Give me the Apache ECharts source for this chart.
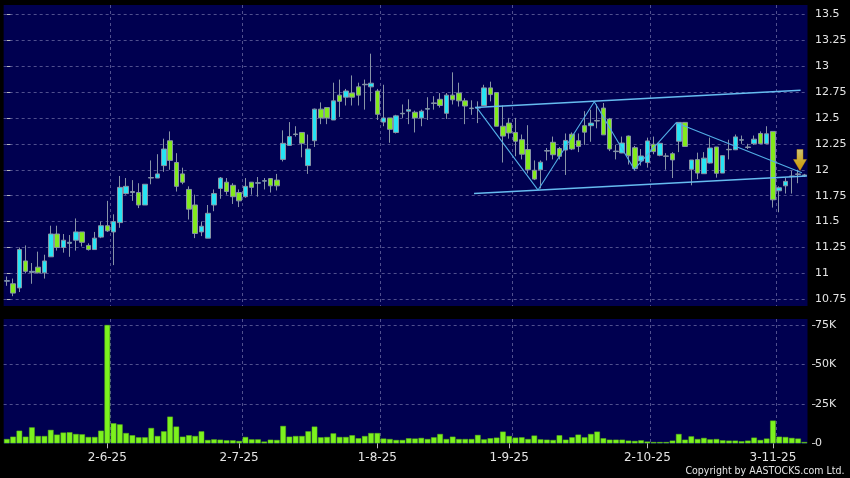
<!DOCTYPE html>
<html>
<head>
<meta charset="utf-8">
<script src="https://cdn.jsdelivr.net/npm/echarts@6.0.0/dist/echarts.min.js"></script>
<style>
html,body{margin:0;padding:0;background:#000;}
#chart{width:850px;height:478px;}
</style>
</head>
<body>
<div id="chart"></div>
<script>
// ---- data ----
const dates = [
'9-5-25','12-5-25','13-5-25','14-5-25','15-5-25','16-5-25','19-5-25','20-5-25','21-5-25','22-5-25','23-5-25','26-5-25','27-5-25','28-5-25','29-5-25','30-5-25',
'2-6-25','3-6-25','4-6-25','5-6-25','6-6-25','9-6-25','10-6-25','11-6-25','12-6-25','13-6-25','16-6-25','17-6-25','18-6-25','19-6-25','20-6-25','23-6-25','24-6-25','25-6-25','26-6-25','27-6-25','30-6-25',
'2-7-25','3-7-25','4-7-25','7-7-25','8-7-25','9-7-25','10-7-25','11-7-25','14-7-25','15-7-25','16-7-25','17-7-25','18-7-25','21-7-25','22-7-25','23-7-25','24-7-25','25-7-25','28-7-25','29-7-25','30-7-25','31-7-25',
'1-8-25','4-8-25','5-8-25','6-8-25','7-8-25','8-8-25','11-8-25','12-8-25','13-8-25','14-8-25','15-8-25','18-8-25','19-8-25','20-8-25','21-8-25','22-8-25','25-8-25','26-8-25','27-8-25','28-8-25','29-8-25',
'1-9-25','2-9-25','3-9-25','4-9-25','5-9-25','8-9-25','9-9-25','10-9-25','11-9-25','12-9-25','15-9-25','16-9-25','17-9-25','18-9-25','19-9-25','22-9-25','23-9-25','24-9-25','25-9-25','26-9-25','29-9-25','30-9-25',
'2-10-25','3-10-25','6-10-25','8-10-25','9-10-25','10-10-25','13-10-25','14-10-25','15-10-25','16-10-25','17-10-25','20-10-25','21-10-25','22-10-25','23-10-25','24-10-25','27-10-25','28-10-25','30-10-25','31-10-25',
'3-11-25','4-11-25','5-11-25','6-11-25','7-11-25','10-11-25'
];
const labelDates = ['2-6-25','2-7-25','1-8-25','1-9-25','2-10-25','3-11-25'];

const openP = [
10.925,10.90,10.86,11.12,11.01,11.06,11.005,11.16,11.38,11.25,
11.29,11.32,11.40,11.27,11.23,11.35,11.46,11.40,11.49,11.77,
11.78,11.78,11.66,11.92,11.92,12.04,12.28,12.07,11.96,11.81,
11.66,11.40,11.34,11.66,11.82,11.88,11.85,11.78,11.74,11.88,
11.87,11.89,11.915,11.90,12.10,12.235,12.34,12.36,12.04,12.28,
12.585,12.60,12.48,12.72,12.70,12.74,12.80,12.82,12.80,12.76,
12.46,12.50,12.36,12.54,12.565,12.555,12.50,12.585,12.64,12.68,
12.545,12.72,12.74,12.665,12.59,12.595,12.62,12.79,12.745,12.42,
12.45,12.36,12.29,12.195,11.995,12.0,12.18,12.265,12.205,12.19,
12.343,12.28,12.425,12.425,12.47,12.595,12.49,12.175,12.162,12.325,
12.213,12.085,12.069,12.246,12.139,12.13,12.155,12.275,12.457,12.005,
12.098,11.962,12.065,12.22,11.968,12.193,12.193,12.285,12.215,12.252,
12.35,12.252,12.37,11.797,11.845,11.935,11.955,11.945
];
const closeP = [
10.93,10.81,11.23,11.02,11.02,11.005,11.12,11.38,11.25,11.32,
11.30,11.40,11.30,11.23,11.34,11.46,11.41,11.50,11.83,11.84,
11.79,11.66,11.86,11.925,11.96,12.20,12.09,11.84,11.88,11.62,
11.385,11.455,11.58,11.77,11.92,11.79,11.74,11.70,11.84,11.83,
11.875,11.895,11.845,11.845,12.255,12.32,12.345,12.255,12.20,12.585,
12.50,12.50,12.665,12.66,12.76,12.70,12.72,12.825,12.835,12.535,
12.50,12.39,12.52,12.545,12.58,12.50,12.565,12.59,12.645,12.62,
12.72,12.675,12.665,12.615,12.595,12.60,12.79,12.725,12.42,12.325,
12.355,12.275,12.15,12.0,11.91,12.073,12.185,12.145,12.13,12.283,
12.20,12.225,12.363,12.45,12.475,12.337,12.20,12.18,12.258,12.135,
12.011,12.133,12.278,12.175,12.255,12.133,12.095,12.457,12.225,12.094,
11.968,12.112,12.21,11.966,12.136,12.197,12.317,12.29,12.22,12.295,
12.252,12.347,11.71,11.826,11.888,11.94,11.96,11.95
];
const lowP = [
10.88,10.78,10.82,11.00,10.90,11.00,10.95,11.16,11.22,11.20,
11.16,11.22,11.26,11.22,11.23,11.34,11.40,11.08,11.44,11.76,
11.70,11.63,11.66,11.86,11.92,11.98,12.00,11.79,11.86,11.52,
11.34,11.36,11.34,11.60,11.72,11.76,11.67,11.64,11.73,11.76,
11.74,11.81,11.78,11.80,12.08,12.23,12.32,12.12,11.96,12.22,
12.44,12.44,12.48,12.51,12.62,12.62,12.62,12.58,12.66,12.48,
12.42,12.26,12.35,12.50,12.44,12.36,12.42,12.48,12.58,12.60,
12.49,12.63,12.61,12.44,12.53,12.45,12.62,12.66,12.42,12.07,
12.30,12.13,12.10,11.965,11.90,11.82,12.09,12.10,12.10,11.95,
12.19,12.17,12.24,12.27,12.40,12.337,12.18,12.10,12.16,12.05,
11.99,12.04,12.02,12.15,12.13,12.00,11.92,12.17,12.22,11.85,
11.91,11.96,12.06,11.924,11.968,12.10,12.19,12.25,12.20,12.24,
12.25,12.25,11.635,11.59,11.77,11.77,11.87,11.93
];
const highP = [
10.97,10.95,11.25,11.27,11.10,11.21,11.18,11.46,11.46,11.38,
11.37,11.53,11.40,11.29,11.40,11.50,11.70,11.57,11.94,11.92,
11.90,11.87,11.86,12.09,12.15,12.30,12.37,12.16,12.02,11.84,
11.76,11.50,11.66,11.81,11.93,11.92,11.87,11.81,11.92,11.88,
11.93,11.92,11.92,11.96,12.38,12.46,12.42,12.36,12.34,12.59,
12.65,12.60,12.84,12.87,12.78,12.91,12.84,12.87,13.12,12.78,
12.82,12.50,12.53,12.63,12.68,12.57,12.58,12.70,12.71,12.74,
12.74,12.94,12.84,12.69,12.67,12.66,12.82,12.85,12.75,12.62,
12.50,12.50,12.34,12.43,12.09,12.09,12.21,12.32,12.22,12.35,
12.36,12.35,12.565,12.58,12.63,12.644,12.50,12.24,12.32,12.33,
12.23,12.20,12.31,12.32,12.26,12.16,12.17,12.46,12.46,12.094,
12.165,12.17,12.31,12.22,12.14,12.29,12.34,12.33,12.25,12.33,
12.37,12.42,12.37,11.84,11.92,11.99,12.0,11.96
];
// volume in thousands of shares
const volumeK = [
2.7,4.2,8.0,4.2,10.1,4.6,4.6,8.5,5.5,6.8,
7.0,5.9,5.7,4.0,4.0,8.0,75.0,12.7,12.0,6.5,
5.1,3.8,3.8,9.7,4.6,7.6,16.9,10.6,4.2,5.1,
4.6,7.6,2.1,2.5,2.3,1.9,1.9,1.5,4.0,2.5,
2.5,1.1,2.3,2.1,11.0,4.2,4.6,4.6,7.6,10.6,
3.8,4.0,6.3,4.0,4.0,5.1,3.2,4.6,6.5,6.5,
3.0,2.7,2.1,2.1,3.2,3.0,3.4,
2.7,3.8,5.9,2.7,4.2,2.7,2.7,2.7,5.3,2.5,
3.2,3.6,7.4,4.6,3.6,3.8,2.7,4.9,2.5,2.3,
2.1,5.1,2.3,3.8,5.5,3.8,5.9,7.4,3.2,2.3,
2.3,2.3,1.7,1.5,1.9,1.1,0.8,0.8,0.8,1.7,
5.9,2.3,4.4,2.7,3.4,2.5,2.7,1.9,1.7,1.7,
1.3,1.7,3.6,2.1,3.0,14.4,4.2,4.0,3.4,3.0,
0.8
];
// trend lines: [category position, price]
const channelUpper = [[74.55, 12.600], [126.4, 12.766]];
const channelLower = [[74.4, 11.772], [127.4, 11.939]];
const zigzag = [[74.8, 12.602], [84.6, 11.804], [93.55, 12.656], [99.9, 12.004], [106.6, 12.454], [126.6, 11.971]];
const arrowPoint = [[126.3, 12.094]];
const priceTicks = {min: 10.75, max: 13.5, step: 0.25};
const volTicks = {min: 0, max: 75, step: 25};

// ---- chart ----
const labelIdx = new Set(labelDates.map(d => dates.indexOf(d)));
const splitIdx = new Set(labelDates.map(d => dates.indexOf(d) + 1));
const ohlc = dates.map((d, i) => [openP[i], closeP[i], lowP[i], highP[i]]);

const NAVY = '#000050';
const GRIDC = '#50508e';
const CYAN = '#26e4f4';
const GREEN = '#82ea1c';
const BORDER = '#8894a6';
const TXT = '#e4e4e4';
const FONT = 'DejaVu Sans';
const L = 3.66, R = 42.5;

const vSplit = {show: true, interval: (i) => splitIdx.has(i), showMaxLine: false, showMinLine: true,
  lineStyle: {color: GRIDC, type: [3, 3], width: 1}};
const hidden = {axisLine: {show: false}, axisTick: {show: false}, axisLabel: {show: false}};

const chart = echarts.init(document.getElementById('chart'), null, {renderer: 'canvas'});
chart.setOption({
  backgroundColor: '#000',
  animation: false,
  title: {text: 'Copyright by AASTOCKS.com Ltd.', right: 5.5, bottom: 1.5, padding: 0,
    textStyle: {color: TXT, fontSize: 10.5, fontWeight: 'normal', fontFamily: '"DejaVu Sans Condensed", "DejaVu Sans"'}},
  grid: [
    {left: L, right: R, top: 5, height: 301, show: true, backgroundColor: NAVY, borderWidth: 0},
    {left: L, right: R, top: 14.3, height: 285},
    {left: L, right: R, top: 319, height: 125, show: true, backgroundColor: NAVY, borderWidth: 0},
    {left: L, right: R, top: 325, height: 118.3}
  ],
  xAxis: [
    Object.assign({type: 'category', gridIndex: 0, data: dates, boundaryGap: true, splitLine: vSplit}, hidden),
    {type: 'category', gridIndex: 1, data: dates, boundaryGap: true, show: false},
    {type: 'value', gridIndex: 1, min: -0.5, max: dates.length - 0.5, show: false},
    Object.assign({type: 'category', gridIndex: 2, data: dates, boundaryGap: true, splitLine: vSplit}, hidden),
    {type: 'category', gridIndex: 3, data: dates, boundaryGap: true,
      axisLine: {show: false},
      axisTick: {show: true, interval: (i) => labelIdx.has(i), alignWithLabel: true, length: 5, lineStyle: {color: '#bbbbbb'}},
      axisLabel: {interval: (i) => labelIdx.has(i), color: TXT, fontSize: 12, margin: 9, fontFamily: FONT},
      splitLine: {show: false}}
  ],
  yAxis: [
    {type: 'value', gridIndex: 0, show: false, min: 0, max: 1, splitLine: {show: false}},
    {type: 'value', gridIndex: 1, position: 'right', min: priceTicks.min, max: priceTicks.max, interval: priceTicks.step,
      offset: 4.5, axisLine: {show: false},
      axisTick: {show: true, length: 3.5, lineStyle: {color: '#bbbbbb'}},
      axisLabel: {color: TXT, fontSize: 11, margin: 3, fontFamily: FONT},
      splitLine: {show: true, lineStyle: {color: GRIDC, type: [3, 3], width: 1}}},
    {type: 'value', gridIndex: 2, show: false, min: 0, max: 1, splitLine: {show: false}},
    {type: 'value', gridIndex: 3, position: 'right', min: volTicks.min, max: volTicks.max, interval: volTicks.step,
      offset: 4.5, axisLine: {show: false},
      axisTick: {show: true, length: 3.5, lineStyle: {color: '#bbbbbb'}},
      axisLabel: {color: TXT, fontSize: 11, margin: 3, fontFamily: FONT, formatter: v => v === 0 ? '0' : v + 'K'},
      splitLine: {show: true, showMinLine: false, lineStyle: {color: GRIDC, type: [3, 3], width: 1}}}
  ],
  series: [
    {type: 'candlestick', xAxisIndex: 1, yAxisIndex: 1, data: ohlc, barWidth: 5,
      itemStyle: {color: CYAN, color0: GREEN, borderColor: BORDER, borderColor0: BORDER, borderColorDoji: BORDER, borderWidth: 1}},
    {type: 'line', xAxisIndex: 2, yAxisIndex: 1, data: channelUpper, symbol: 'none', silent: true,
      lineStyle: {color: '#66bcf0', width: 1.5}},
    {type: 'line', xAxisIndex: 2, yAxisIndex: 1, data: channelLower, symbol: 'none', silent: true,
      lineStyle: {color: '#66bcf0', width: 1.5}},
    {type: 'line', xAxisIndex: 2, yAxisIndex: 1, data: zigzag, symbol: 'none', silent: true,
      lineStyle: {color: '#52aee6', width: 1.1}},
    {type: 'scatter', xAxisIndex: 2, yAxisIndex: 1, data: arrowPoint, silent: true,
      symbol: 'path://M3.5,0 L9.5,0 L9.5,10 L13,10 L6.5,21 L0,10 L3.5,10 Z', symbolSize: [13, 21],
      itemStyle: {color: new echarts.graphic.LinearGradient(0, 0, 0, 1, [
        {offset: 0, color: '#fff480'}, {offset: 0.6, color: '#ffd21a'}, {offset: 1, color: '#ffb800'}]),
        borderColor: '#d89a00', borderWidth: 0.5}},
    {type: 'bar', xAxisIndex: 4, yAxisIndex: 3, data: volumeK, barWidth: 5.6,
      itemStyle: {color: '#7cf21e', borderColor: '#5cb814', borderWidth: 0.5}}
  ]
});
</script>
</body>
</html>
